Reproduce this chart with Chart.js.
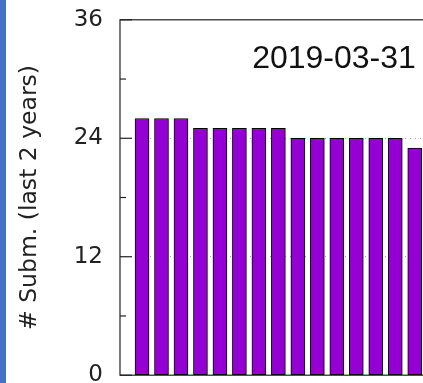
<!DOCTYPE html>
<html>
<head>
<meta charset="utf-8">
<script src="https://cdn.jsdelivr.net/npm/chart.js@4.4.0/dist/chart.umd.min.js"></script>
<style>
    html, body { margin: 0; padding: 0; background: #fff; }
    #frame { position: relative; width: 423px; height: 383px; overflow: hidden; }
    #strip { position: absolute; left: 0; top: 0; width: 6px; height: 383px; background: #4472c4; }
    #chart { position: absolute; left: 0; top: -11px; }
</style>
</head>
<body>
<div id="frame">
    <canvas id="chart" width="560" height="417"></canvas>
    <div id="strip"></div>
</div>
<script>
// Data and Constants
const submissions = [26, 26, 26, 25, 25, 25, 25, 25, 24, 24, 24, 24, 24, 24, 23];
const barPositions = [0, 1, 2, 3, 4, 5, 6, 7, 8, 9, 10, 11, 12, 13, 14];
const yTicks = [0, 6, 12, 18, 24, 30, 36];
const majorTicks = [0, 12, 24, 36];
const dateLabel = '2019-03-31';
const yTitle = '# Subm. (last 2 years)';

const barColor = '#9400d3';
const axisColor = '#222';

// gnuplot style border, inward ticks and the date label
const gnuplotFrame = {
    id: 'gnuplotFrame',
    afterDraw(chart) {
        const { ctx, chartArea } = chart;
        const y = chart.scales.y;
        ctx.save();
        ctx.strokeStyle = axisColor;
        ctx.lineWidth = 1.2;
        ctx.strokeRect(chartArea.left, chartArea.top, chartArea.right - chartArea.left, chartArea.bottom - chartArea.top);
        yTicks.forEach(v => {
            const py = y.getPixelForValue(v);
            const len = majorTicks.includes(v) ? 12 : 6;
            ctx.beginPath();
            ctx.moveTo(chartArea.left, py);
            ctx.lineTo(chartArea.left + len, py);
            ctx.stroke();
        });
        ctx.fillStyle = '#111';
        ctx.font = '32px "Liberation Sans", Arial, sans-serif';
        ctx.textAlign = 'center';
        ctx.textBaseline = 'alphabetic';
        ctx.fillText(dateLabel, (chartArea.left + chartArea.right) / 2, chartArea.top + 48);
        ctx.restore();
    }
};

const chart = new Chart(document.getElementById('chart'), {
    type: 'bar',
    data: {
        datasets: [{
            data: barPositions.map((x, i) => ({ x, y: submissions[i] })),
            backgroundColor: barColor,
            borderColor: '#000',
            borderWidth: 1,
            borderSkipped: false,
            barThickness: 14
        }]
    },
    options: {
        responsive: false,
        animation: false,
        devicePixelRatio: 1,
        layout: { padding: { left: 0, top: 19, right: 12, bottom: 24 } },
        plugins: { legend: { display: false }, tooltip: { enabled: false } },
        scales: {
            x: {
                type: 'linear',
                display: false,
                offset: false,
                min: -1.13,
                max: 20.84
            },
            y: {
                min: 0,
                max: 36,
                z: 1,
                afterFit(scale) { scale.width = 120; },
                afterBuildTicks(scale) { scale.ticks = yTicks.map(value => ({ value })); },
                ticks: {
                    padding: 17,
                    color: '#222',
                    font: { family: 'DejaVu Sans', size: 23 },
                    callback: v => majorTicks.includes(v) ? v : ''
                },
                grid: {
                    drawTicks: false,
                    lineWidth: 1,
                    color: ctx => (ctx.tick && (ctx.tick.value === 12 || ctx.tick.value === 24)) ? '#a8a8a8' : 'rgba(0,0,0,0)'
                },
                border: { display: false, dash: [1, 4] },
                title: {
                    display: true,
                    text: yTitle,
                    color: '#222',
                    font: { family: 'DejaVu Sans', size: 23.5 },
                    padding: { top: 16, bottom: 0 }
                }
            }
        }
    },
    plugins: [gnuplotFrame]
});
</script>
</body>
</html>
